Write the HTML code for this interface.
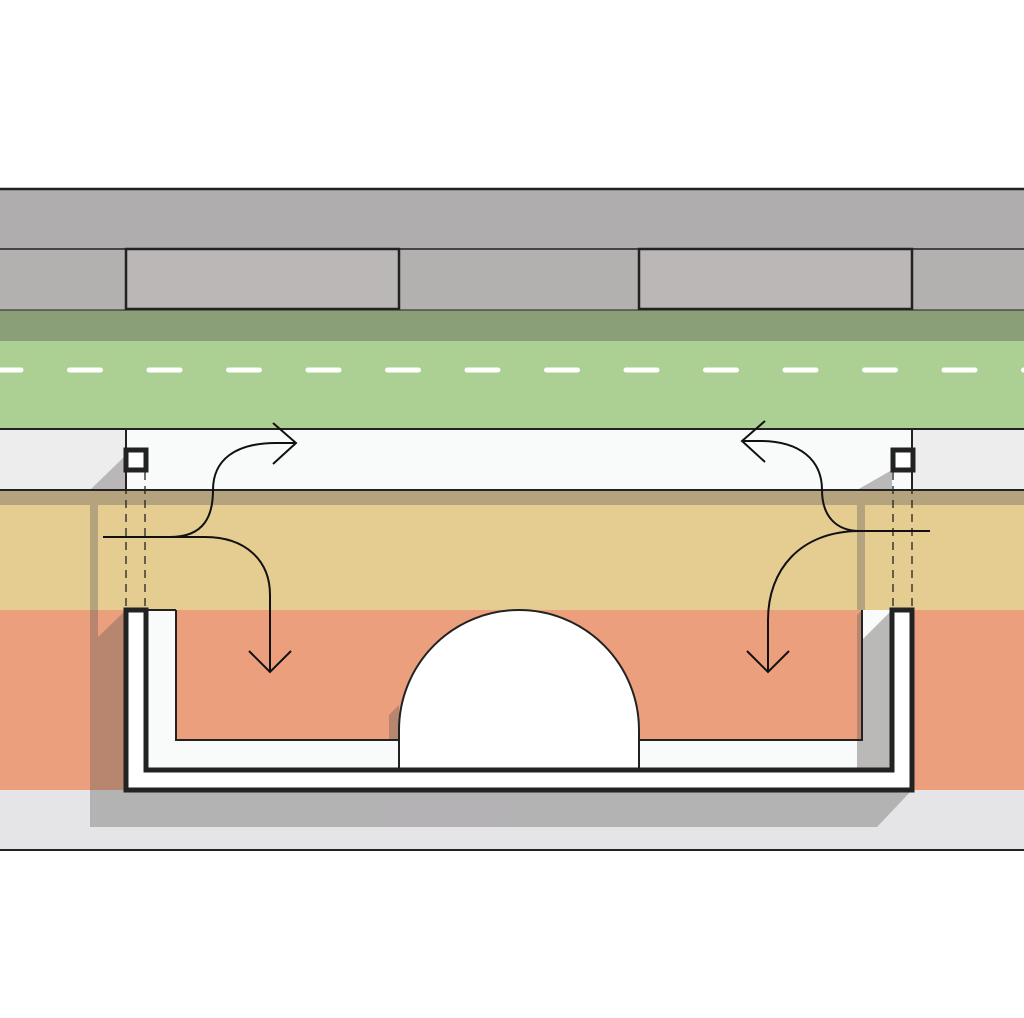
<!DOCTYPE html>
<html><head><style>html,body{margin:0;padding:0;background:#fff}svg{display:block}</style></head>
<body>
<svg width="1024" height="1018" viewBox="0 0 1024 1018" xmlns="http://www.w3.org/2000/svg">
<rect x="0" y="0" width="1024" height="1018" fill="#ffffff"/>
<rect x="0" y="189" width="1024" height="60" fill="#afadae"/>
<rect x="0" y="249" width="1024" height="61" fill="#b3b0b0"/>
<rect x="126" y="249" width="273" height="60" fill="#bab7b6" stroke="#222" stroke-width="2.5"/>
<rect x="639" y="249" width="273" height="60" fill="#bab7b6" stroke="#222" stroke-width="2.5"/>
<line x1="0" y1="249" x2="1024" y2="249" stroke="#222" stroke-width="1.5"/>
<line x1="0" y1="189" x2="1024" y2="189" stroke="#222" stroke-width="2.5"/>
<rect x="0" y="310" width="1024" height="31" fill="#8a9f78"/>
<rect x="0" y="341" width="1024" height="88" fill="#acd094"/>
<line x1="0" y1="310" x2="1024" y2="310" stroke="#222" stroke-width="1"/>
<line x1="-10" y1="370" x2="1040" y2="370" stroke="#fff" stroke-width="5" stroke-linecap="round" stroke-dasharray="31 48.5"/>
<rect x="0" y="429" width="1024" height="61" fill="#ededed"/>
<rect x="0" y="490" width="1024" height="120" fill="#e5cd92"/>
<rect x="0" y="610" width="1024" height="180" fill="#ec9f7c"/>
<rect x="0" y="790" width="1024" height="60" fill="#e5e5e7"/>
<g fill="#5a5656" opacity="0.35">
<polygon points="126,455 90,490 126,490"/>
<rect x="90" y="505" width="8" height="105"/>
<polygon points="90,610 98,610 98,637 126,610 126,790 912,790 877,827 90,827"/>
<rect x="0" y="490" width="1024" height="15"/>
<rect x="857" y="505" width="8" height="105"/>
<polygon points="862,610 857,615 857,740 862,740"/>
<polygon points="399,705 389,715 389,770 399,770"/>
<polygon points="892,470 857,490 892,490"/>
</g>
<rect x="126" y="429" width="786" height="61" fill="#f9fbfb"/>
<polygon points="892,470 857,490 892,490" fill="#bbb8b8"/>
<line x1="126" y1="429" x2="126" y2="490" stroke="#222" stroke-width="2"/>
<line x1="912" y1="429" x2="912" y2="490" stroke="#222" stroke-width="2"/>
<line x1="0" y1="429" x2="1024" y2="429" stroke="#222" stroke-width="2"/>
<line x1="0" y1="490" x2="1024" y2="490" stroke="#222" stroke-width="2"/>
<line x1="0" y1="850" x2="1024" y2="850" stroke="#222" stroke-width="2"/>
<path d="M126,610 H146 V770 H892 V610 H912 V790 H126 Z" fill="#ffffff"/>
<path d="M146,610 H176 V740 H862 V610 H892 V770 H146 Z" fill="#f9fbfb"/>
<polygon points="862,610 892,610 892,770 857,770 857,740 862,740" fill="#bbb8b8"/>
<polygon points="862,610 892,610 862,640" fill="#f9fbfb"/>
<path d="M176,610 V740 H862 V610" fill="none" stroke="#222" stroke-width="2"/>
<line x1="146" y1="610" x2="176" y2="610" stroke="#222" stroke-width="2"/>
<path d="M399,770 V730 A120,120 0 0 1 639,730 V770 Z" fill="#ffffff" stroke="#222" stroke-width="2"/>
<path d="M126,610 H146 V770 H892 V610 H912 V790 H126 Z" fill="none" stroke="#222" stroke-width="5"/>
<g stroke="#222" stroke-width="1.3" stroke-dasharray="8 6">
<line x1="126" y1="472" x2="126" y2="608"/><line x1="145" y1="472" x2="145" y2="608"/>
<line x1="893" y1="472" x2="893" y2="608"/><line x1="912" y1="472" x2="912" y2="608"/>
</g>
<rect x="126" y="450" width="20" height="20" fill="#fff" stroke="#222" stroke-width="5"/>
<rect x="893" y="450" width="20" height="20" fill="#fff" stroke="#222" stroke-width="5"/>
<g fill="none" stroke="#111" stroke-width="2">
<path d="M103,537 H170 C205,537 213,515 213,490 C213,460 235,443 276,443 H296"/>
<polyline points="273,423 296,443 273,464"/>
<path d="M170,537 H205 C245,537 270,560 270,595 V672"/>
<polyline points="249,651 270,672 291,651"/>
<path d="M930,531 H860 C835,531 822,515 822,490 C822,460 800,441 760,441 H742"/>
<polyline points="765,421 742,441 765,462"/>
<path d="M860,531 C800,531 768,570 768,620 V672"/>
<polyline points="747,651 768,672 789,651"/>
</g>
</svg>
</body></html>
